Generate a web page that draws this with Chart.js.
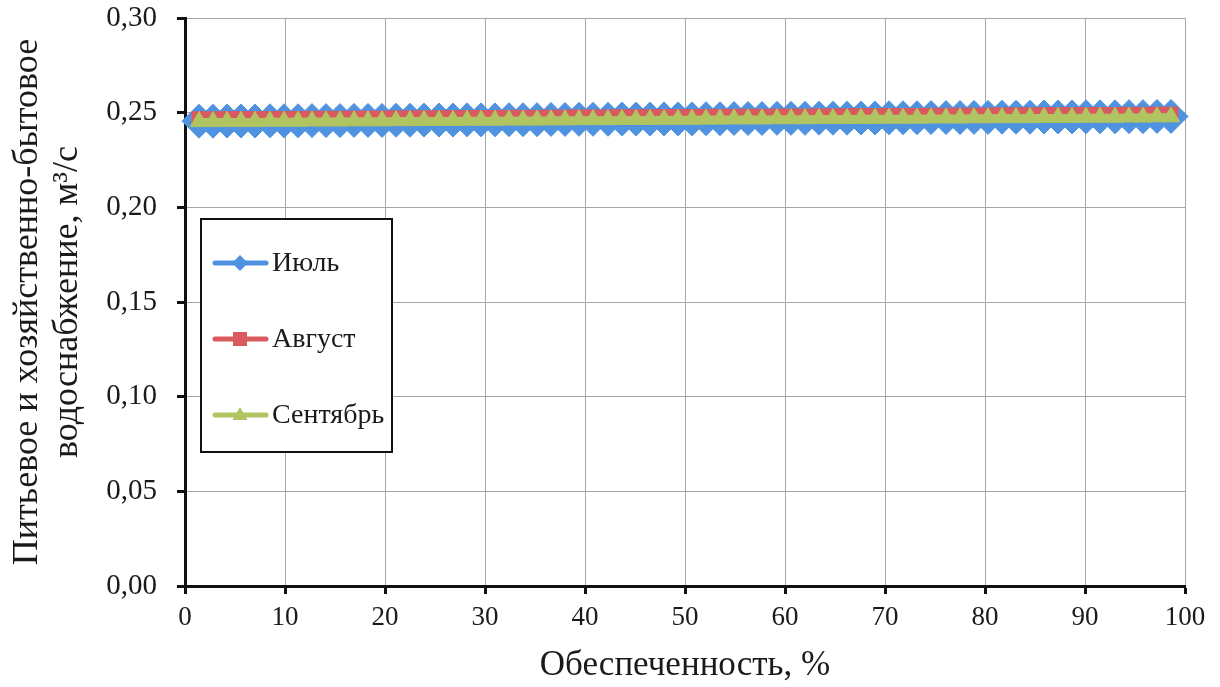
<!DOCTYPE html>
<html>
<head>
<meta charset="utf-8">
<script src="https://cdn.jsdelivr.net/npm/chart.js@4.4.1/dist/chart.umd.min.js"></script>
<style>
  html, body { margin: 0; padding: 0; background: #ffffff; }
  #c { display: block; }
</style>
</head>
<body>
<canvas id="c" width="1220" height="687"></canvas>
<script>
// Обеспеченность, %
const exceedance = [1.4, 2.8, 4.2, 5.6, 7.0, 8.5, 9.9, 11.3, 12.7, 14.1,
  15.5, 16.9, 18.3, 19.7, 21.1, 22.5, 23.9, 25.4, 26.8, 28.2,
  29.6, 31.0, 32.4, 33.8, 35.2, 36.6, 38.0, 39.4, 40.8, 42.3,
  43.7, 45.1, 46.5, 47.9, 49.3, 50.7, 52.1, 53.5, 54.9, 56.3,
  57.7, 59.2, 60.6, 62.0, 63.4, 64.8, 66.2, 67.6, 69.0, 70.4,
  71.8, 73.2, 74.6, 76.1, 77.5, 78.9, 80.3, 81.7, 83.1, 84.5,
  85.9, 87.3, 88.7, 90.1, 91.5, 93.0, 94.4, 95.8, 97.2, 98.6];

const july = [0.2455, 0.2455, 0.2456, 0.2456, 0.2456, 0.2457, 0.2457, 0.2457, 0.2458, 0.2458,
  0.2458, 0.2459, 0.2459, 0.2459, 0.2460, 0.2460, 0.2461, 0.2461, 0.2461, 0.2462,
  0.2462, 0.2462, 0.2463, 0.2463, 0.2463, 0.2464, 0.2464, 0.2465, 0.2465, 0.2465,
  0.2466, 0.2466, 0.2466, 0.2467, 0.2467, 0.2467, 0.2468, 0.2468, 0.2469, 0.2469,
  0.2469, 0.2470, 0.2470, 0.2470, 0.2471, 0.2471, 0.2471, 0.2472, 0.2472, 0.2473,
  0.2473, 0.2473, 0.2474, 0.2474, 0.2474, 0.2475, 0.2475, 0.2476, 0.2476, 0.2476,
  0.2477, 0.2477, 0.2477, 0.2478, 0.2478, 0.2478, 0.2479, 0.2479, 0.2480, 0.2480];

const august = [0.2467, 0.2467, 0.2468, 0.2468, 0.2468, 0.2469, 0.2469, 0.2469, 0.2470, 0.2470,
  0.2470, 0.2471, 0.2471, 0.2471, 0.2472, 0.2472, 0.2473, 0.2473, 0.2473, 0.2474,
  0.2474, 0.2474, 0.2475, 0.2475, 0.2475, 0.2476, 0.2476, 0.2477, 0.2477, 0.2477,
  0.2478, 0.2478, 0.2478, 0.2479, 0.2479, 0.2479, 0.2480, 0.2480, 0.2481, 0.2481,
  0.2481, 0.2482, 0.2482, 0.2482, 0.2483, 0.2483, 0.2483, 0.2484, 0.2484, 0.2485,
  0.2485, 0.2485, 0.2486, 0.2486, 0.2486, 0.2487, 0.2487, 0.2488, 0.2488, 0.2488,
  0.2489, 0.2489, 0.2489, 0.2490, 0.2490, 0.2490, 0.2491, 0.2491, 0.2492, 0.2492];

const september = [0.2453, 0.2453, 0.2454, 0.2454, 0.2454, 0.2455, 0.2455, 0.2455, 0.2456, 0.2456,
  0.2456, 0.2457, 0.2457, 0.2457, 0.2458, 0.2458, 0.2459, 0.2459, 0.2459, 0.2460,
  0.2460, 0.2460, 0.2461, 0.2461, 0.2461, 0.2462, 0.2462, 0.2463, 0.2463, 0.2463,
  0.2464, 0.2464, 0.2464, 0.2465, 0.2465, 0.2465, 0.2466, 0.2466, 0.2467, 0.2467,
  0.2467, 0.2468, 0.2468, 0.2468, 0.2469, 0.2469, 0.2469, 0.2470, 0.2470, 0.2471,
  0.2471, 0.2471, 0.2472, 0.2472, 0.2472, 0.2473, 0.2473, 0.2474, 0.2474, 0.2474,
  0.2475, 0.2475, 0.2475, 0.2476, 0.2476, 0.2476, 0.2477, 0.2477, 0.2478, 0.2478];

const seriesNames = ['Июль', 'Август', 'Сентябрь'];
const xTitle = 'Обеспеченность, %';
const yTitle = ['Питьевое и хозяйственно-бытовое', 'водоснабжение, м³/с'];

const BLUE = '#4f93e0', RED = '#d95a5f', GREEN = '#b0c462';
const SERIF = '"Liberation Serif", "Times New Roman", serif';
const toXY = (ys) => exceedance.map((x, i) => ({ x: x, y: ys[i] }));

const legendPlugin = {
  id: 'boxLegend',
  afterDraw(chart) {
    const ctx = chart.ctx;
    const bx = 201, by = 219, bw = 191, bh = 233;
    ctx.save();
    ctx.fillStyle = '#ffffff';
    ctx.fillRect(bx, by, bw, bh);
    ctx.strokeStyle = '#111111';
    ctx.lineWidth = 2;
    ctx.strokeRect(bx, by, bw, bh);
    const rows = [263, 339, 415];
    chart.data.datasets.forEach((ds, i) => {
      const y = rows[i];
      ctx.strokeStyle = ds.borderColor;
      ctx.lineWidth = 5;
      ctx.lineCap = 'round';
      ctx.beginPath();
      ctx.moveTo(215, y);
      ctx.lineTo(266, y);
      ctx.stroke();
      ctx.fillStyle = ds.borderColor;
      const cx = 240;
      ctx.beginPath();
      if (ds.pointStyle === 'rectRot') {
        ctx.moveTo(cx - 8, y); ctx.lineTo(cx, y - 8); ctx.lineTo(cx + 8, y); ctx.lineTo(cx, y + 8);
      } else if (ds.pointStyle === 'rect') {
        ctx.rect(cx - 7, y - 7, 14, 14);
      } else {
        ctx.moveTo(cx, y - 8); ctx.lineTo(cx + 7.5, y + 5); ctx.lineTo(cx - 7.5, y + 5);
      }
      ctx.closePath();
      ctx.fill();
      ctx.fillStyle = '#1a1a1a';
      ctx.font = '28px ' + SERIF;
      ctx.textAlign = 'left';
      ctx.textBaseline = 'middle';
      ctx.fillText(ds.label, 272, y + 1);
    });
    ctx.restore();
  }
};

new Chart(document.getElementById('c'), {
  type: 'line',
  data: {
    datasets: [
      { label: seriesNames[0], data: toXY(july), borderColor: BLUE, backgroundColor: BLUE,
        borderWidth: 5, pointStyle: 'rectRot', pointRadius: 17, pointBackgroundColor: BLUE,
        pointBorderColor: BLUE, pointBorderWidth: 1, order: 3, clip: false },
      { label: seriesNames[1], data: toXY(august), borderColor: RED, backgroundColor: RED,
        borderWidth: 5, pointStyle: 'rect', pointRadius: 10, pointBackgroundColor: RED,
        pointBorderColor: RED, pointBorderWidth: 1, order: 2, clip: false },
      { label: seriesNames[2], data: toXY(september), borderColor: GREEN, backgroundColor: GREEN,
        borderWidth: 7, pointStyle: 'triangle', pointRadius: 10, pointBackgroundColor: GREEN,
        pointBorderColor: GREEN, pointBorderWidth: 1, order: 1, clip: false }
    ]
  },
  options: {
    responsive: false,
    animation: false,
    events: [],
    layout: { padding: { left: 0, right: 35, top: 18, bottom: 0 } },
    plugins: { legend: { display: false }, tooltip: { enabled: false } },
    scales: {
      x: {
        type: 'linear', min: 0, max: 100,
        afterFit: (s) => { s.height = 101; s.paddingLeft = 0; s.paddingRight = 0; },
        ticks: { stepSize: 10, padding: 8, color: '#1a1a1a', font: { family: SERIF, size: 27 } },
        grid: { color: '#a6a6a6', lineWidth: 1, tickColor: '#111111', tickWidth: 3, tickLength: 8 },
        border: { display: true, color: '#111111', width: 3 },
        title: { display: true, text: xTitle, color: '#1a1a1a', padding: { top: 0, bottom: 0 },
          font: { family: SERIF, size: 35, lineHeight: 1.2 } }
      },
      y: {
        min: 0, max: 0.3,
        afterFit: (s) => { s.width = 185; s.paddingTop = 0; s.paddingBottom = 0; },
        ticks: { stepSize: 0.05, padding: 20, color: '#1a1a1a', font: { family: SERIF, size: 29 },
          callback: (v) => v.toFixed(2).replace('.', ',') },
        grid: { color: '#a6a6a6', lineWidth: 1, tickColor: '#111111', tickWidth: 3, tickLength: 8 },
        border: { display: true, color: '#111111', width: 3 },
        title: { display: true, text: yTitle, color: '#1a1a1a', padding: { top: 8, bottom: 0 },
          font: { family: SERIF, size: 36, lineHeight: 1.11 } }
      }
    }
  },
  plugins: [legendPlugin]
});
</script>
</body>
</html>
